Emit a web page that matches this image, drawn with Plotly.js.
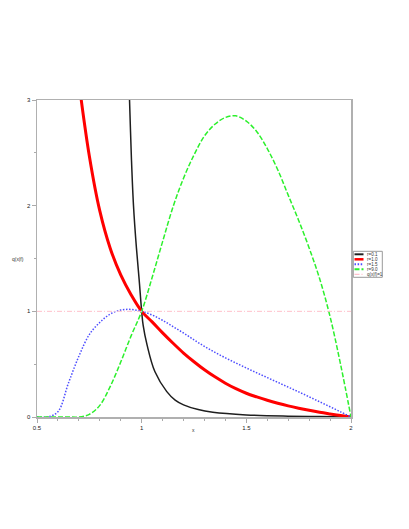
<!DOCTYPE html>
<html>
<head>
<meta charset="utf-8">
<script src="https://cdn.plot.ly/plotly-3.0.1.min.js"></script>
<style>
  html, body { margin: 0; padding: 0; background: #fff; }
  #grafico { width: 409px; height: 529px; }
</style>
</head>
<body>
<div id="grafico"></div>
<script>
// ── Datos ─────────────────────────────────────────────────
const etiquetas = ["r=0.1", "r=1.0", "r=1.5", "r=9.0", "q(x|f)=1"];

const xR01 = [0.935, 0.942, 0.951, 0.961, 0.975, 0.988, 1.0, 1.007, 1.026, 1.063, 1.12, 1.16, 1.2, 1.27, 1.34, 1.5, 1.7, 1.85, 2.0];
const yR01 = [3.37, 3.0, 2.45, 2.0, 1.6, 1.3, 1.0, 0.87, 0.68, 0.43, 0.24, 0.16, 0.115, 0.07, 0.045, 0.02, 0.008, 0.004, 0];

const xR10 = [0.70, 0.75, 0.80, 0.85, 0.90, 0.95, 1.0, 1.05, 1.10, 1.15, 1.20, 1.25, 1.30, 1.35, 1.40, 1.45, 1.50,
              1.55, 1.60, 1.65, 1.70, 1.75, 1.80, 1.85, 1.90, 1.95, 2.0];
const yR10 = [3.17, 2.47, 1.95, 1.595, 1.345, 1.155, 1.0, 0.9, 0.796, 0.698, 0.605, 0.523, 0.447, 0.38, 0.32, 0.268, 0.225,
              0.19, 0.158, 0.13, 0.105, 0.083, 0.063, 0.045, 0.029, 0.014, 0];

const xR15 = [0.5, 0.55, 0.60, 0.65, 0.70, 0.75, 0.80, 0.85, 0.90, 0.95, 1.0, 1.05, 1.10, 1.15, 1.20, 1.25, 1.30, 1.35,
              1.40, 1.45, 1.50, 1.55, 1.60, 1.65, 1.70, 1.75, 1.80, 1.85, 1.90, 1.95, 2.0];
const yR15 = [0, 0, 0.05, 0.32, 0.575, 0.78, 0.895, 0.975, 1.012, 1.018, 1.0, 0.965, 0.915, 0.855, 0.795, 0.73, 0.668, 0.612,
              0.56, 0.511, 0.464, 0.418, 0.373, 0.328, 0.283, 0.238, 0.191, 0.144, 0.097, 0.049, 0];

const xR90 = [0.5, 0.55, 0.60, 0.65, 0.70, 0.75, 0.80, 0.85, 0.90, 0.95, 1.0, 1.05, 1.10, 1.15, 1.20, 1.25, 1.30, 1.35,
              1.40, 1.45, 1.50, 1.55, 1.60, 1.65, 1.70, 1.75, 1.80, 1.85, 1.90, 1.95, 2.0];
const yR90 = [0, 0, 0, 0, 0, 0.025, 0.11, 0.29, 0.52, 0.77, 1.0, 1.32, 1.66, 1.99, 2.26, 2.48, 2.66, 2.77,
              2.835, 2.85, 2.80, 2.70, 2.54, 2.34, 2.10, 1.86, 1.60, 1.31, 0.95, 0.50, 0];

const xRef = [0.5, 2.0];
const yRef = [1, 1];

const xTicks = [0.5, 1, 1.5, 2];
const xTickText = ["0.5", "1", "1.5", "2"];
const yTicks = [0, 1, 2, 3];

// ── Estilos ──────────────────────────────────────────────
const estilos = [
  { color: "#1e1e1e", width: 1.5, dash: "solid" },
  { color: "#ff0000", width: 3, dash: "solid" },
  { color: "#4d4dff", width: 1.5, dash: "1.5px,1.6px" },
  { color: "#2cf02c", width: 1.5, dash: "5px,2px" },
  { color: "#ffc0cb", width: 1, dash: "5px,2px,1px,2px" }
];

const series = [[xR01, yR01], [xR10, yR10], [xR15, yR15], [xR90, yR90], [xRef, yRef]];

const traces = series.map(([x, y], i) => ({
  type: "scatter",
  mode: "lines",
  x: x,
  y: y,
  name: etiquetas[i],
  line: Object.assign({ shape: i === 4 ? "linear" : "spline", smoothing: 1 }, estilos[i]),
  showlegend: false,
  hoverinfo: "skip"
}));

// Leyenda dibujada a mano (la de Plotly no baja de 16px por entrada)
const plotW = 314, plotH = 317, plotB = 417, plotL = 37;
const px2x = p => (p - plotL) / plotW;
const px2y = p => (plotB - p) / plotH;

const shapes = [{
  type: "rect", xref: "paper", yref: "paper",
  x0: px2x(353.3), x1: px2x(382.3), y0: px2y(277.3), y1: px2y(251.3),
  line: { color: "#999999", width: 1 }, fillcolor: "rgba(255,255,255,0)"
}];
const annotations = [];
etiquetas.forEach((t, i) => {
  const yp = px2y(254.3 + 5 * i);
  shapes.push({
    type: "line", xref: "paper", yref: "paper",
    x0: px2x(354.5), x1: px2x(363.5), y0: yp, y1: yp,
    line: { color: estilos[i].color, width: Math.min(estilos[i].width * 1.3, 2.5), dash: estilos[i].dash }
  });
  annotations.push({
    xref: "paper", yref: "paper", x: px2x(364.5), y: yp,
    xanchor: "left", yanchor: "middle", showarrow: false,
    text: t, font: { family: "Liberation Sans", size: 4.5, color: "#333" }
  });
});

annotations.push({
  xref: "paper", yref: "paper", x: px2x(18), y: px2y(259),
  xanchor: "center", yanchor: "middle", showarrow: false,
  text: "q(x|f)", font: { family: "Liberation Sans", size: 5, color: "#333" }
});
annotations.push({
  xref: "paper", yref: "paper", x: px2x(193), y: px2y(430),
  xanchor: "center", yanchor: "middle", showarrow: false,
  text: "x", font: { family: "Liberation Sans", size: 5, color: "#333" }
});

const ejeComun = {
  showgrid: false, zeroline: false,
  showline: true, mirror: true, linecolor: "#b0b0b0", linewidth: 1.5,
  ticks: "outside", ticklen: 4, tickcolor: "#aaaaaa", tickwidth: 1,
  tickfont: { family: "Liberation Sans", size: 6, color: "#222" }
};

const layout = {
  width: 409, height: 529,
  margin: { l: plotL, r: 409 - plotL - plotW, t: 529 - plotB - plotH, b: 529 - plotB },
  paper_bgcolor: "#ffffff",
  plot_bgcolor: "#ffffff",
  showlegend: false,
  xaxis: Object.assign({}, ejeComun, {
    range: [0.5, 2], tickvals: xTicks, ticktext: xTickText,
    minor: { dtick: 0.1, tick0: 0.5, ticks: "outside", ticklen: 2, tickcolor: "#aaaaaa" }
  }),
  yaxis: Object.assign({}, ejeComun, {
    range: [0, 3], tickvals: yTicks,
    minor: { dtick: 0.5, tick0: 0, ticks: "outside", ticklen: 2, tickcolor: "#aaaaaa" }
  }),
  shapes: shapes,
  annotations: annotations
};

Plotly.newPlot("grafico", traces, layout, { displayModeBar: false, staticPlot: true });
</script>
</body>
</html>
